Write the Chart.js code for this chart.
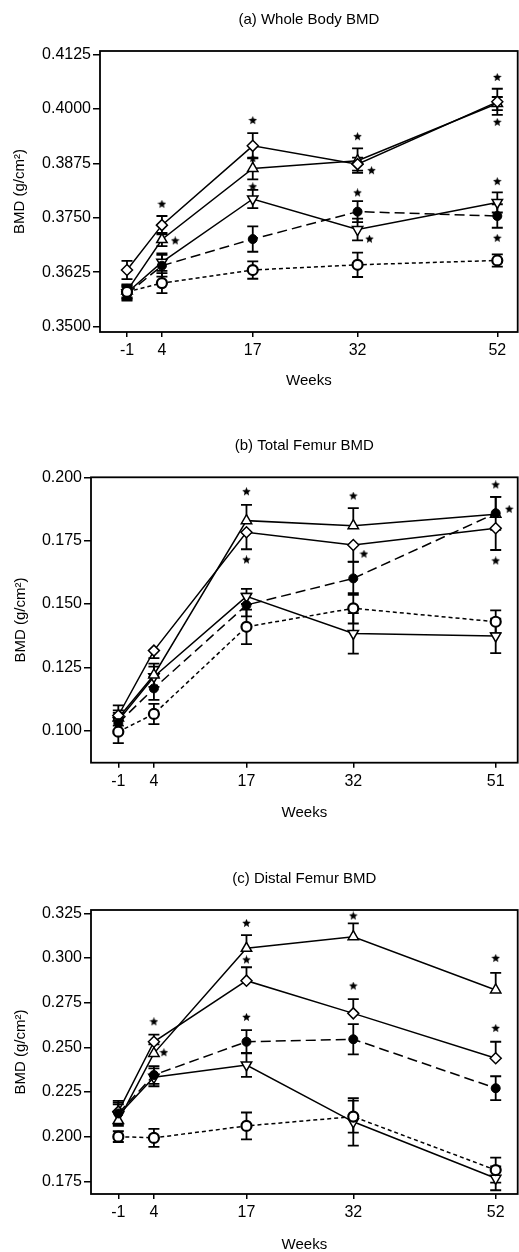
<!DOCTYPE html>
<html><head><meta charset="utf-8">
<script src="https://cdn.jsdelivr.net/npm/chart.js@4.4.1/dist/chart.umd.min.js"></script>
<style>
html,body{margin:0;padding:0;background:#fff;width:519px;height:1252px;overflow:hidden;}
.p{position:absolute;left:0;width:519px;}
canvas{display:block;}
</style></head><body>
<div class="p" style="top:0"><canvas id="ca" width="519" height="400"></canvas></div>
<div class="p" style="top:400px"><canvas id="cb" width="519" height="430"></canvas></div>
<div class="p" style="top:830px"><canvas id="cc" width="519" height="422"></canvas></div>
<script>
// ---------- shared time axis ----------
const timepoints = [-1, 4, 17, 32, 52];           // plotted visit positions (weeks)
const weekLabelsA = ['-1', '4', '17', '32', '52'];
const weekLabelsB = ['-1', '4', '17', '32', '51'];
const weekLabelsC = ['-1', '4', '17', '32', '52'];

// ---------- (a) Whole Body BMD (g/cm²) ----------
const yTicksA = [0.3500, 0.3625, 0.3750, 0.3875, 0.4000, 0.4125];
const wbOpenCircle   = [0.3580, 0.3600, 0.3630, 0.3642, 0.3652];
const wbOpenCircleSE = [0.0015, 0.0023, 0.0020, 0.0028, 0.0014];
const wbFilledCircle   = [0.3575, 0.3640, 0.3701, 0.3764, 0.3754];
const wbFilledCircleSE = [0.0015, 0.0025, 0.0029, 0.0024, 0.0027];
const wbDiamond   = [0.3630, 0.3733, 0.3915, 0.3873, 0.4016];
const wbDiamondSE = [0.0021, 0.0021, 0.0029, 0.0015, 0.0030];
const wbTriUp   = [0.3582, 0.3700, 0.3863, 0.3881, 0.4012];
const wbTriUpSE = [0.0015, 0.0015, 0.0025, 0.0028, 0.0015];
const wbTriDown   = [0.3578, 0.3648, 0.3793, 0.3723, 0.3785];
const wbTriDownSE = [0.0015, 0.0020, 0.0021, 0.0025, 0.0023];
const wbStars = [[4,0.3781],[5.9,0.3697],[17,0.3973],[17,0.3886],[17,0.3821],[32,0.3936],[34,0.3858],[32,0.3807],[33.7,0.3701],[52,0.4072],[52,0.3969],[52,0.3833],[52,0.3703]];

// ---------- (b) Total Femur BMD (g/cm²) ----------
const yTicksB = [0.100, 0.125, 0.150, 0.175, 0.200];
const tfOpenCircle   = [0.0996, 0.1066, 0.1410, 0.1483, 0.1430];
const tfOpenCircleSE = [0.0045, 0.0040, 0.0068, 0.0060, 0.0045];
const tfFilledCircle   = [0.1030, 0.1167, 0.1496, 0.1601, 0.1858];
const tfFilledCircleSE = [0.0040, 0.0045, 0.0045, 0.0065, 0.0065];
const tfDiamond   = [0.1060, 0.1316, 0.1783, 0.1733, 0.1799];
const tfDiamondSE = [0.0040, 0.0030, 0.0067, 0.0066, 0.0086];
const tfTriUp   = [0.1050, 0.1220, 0.1829, 0.1809, 0.1854];
const tfTriUpSE = [0.0050, 0.0045, 0.0062, 0.0069, 0.0069];
const tfTriDown   = [0.1040, 0.1213, 0.1530, 0.1384, 0.1374];
const tfTriDownSE = [0.0040, 0.0040, 0.0030, 0.0080, 0.0068];
const tfStars = [[17,0.1943],[17,0.1674],[32,0.1926],[33.5,0.1697],[52,0.1970],[53.9,0.1874],[52,0.1670]];

// ---------- (c) Distal Femur BMD (g/cm²) ----------
const yTicksC = [0.175, 0.200, 0.225, 0.250, 0.275, 0.300, 0.325];
const dfOpenCircle   = [0.2000, 0.1993, 0.2060, 0.2112, 0.1813];
const dfOpenCircleSE = [0.0030, 0.0050, 0.0075, 0.0090, 0.0070];
const dfFilledCircle   = [0.2130, 0.2345, 0.2531, 0.2545, 0.2271];
const dfFilledCircleSE = [0.0060, 0.0050, 0.0065, 0.0085, 0.0067];
const dfDiamond   = [0.2140, 0.2531, 0.2873, 0.2690, 0.2439];
const dfDiamondSE = [0.0060, 0.0040, 0.0075, 0.0080, 0.0092];
const dfTriUp   = [0.2090, 0.2466, 0.3054, 0.3119, 0.2821];
const dfTriUpSE = [0.0050, 0.0050, 0.0074, 0.0075, 0.0096];
const dfTriDown   = [0.2120, 0.2332, 0.2401, 0.2083, 0.1767];
const dfTriDownSE = [0.0060, 0.0050, 0.0067, 0.0133, 0.0067];
const dfStars = [[4,0.2643],[5.4,0.2470],[17,0.3194],[17,0.2989],[17,0.2668],[32,0.3235],[32,0.2843],[52,0.2998],[52,0.2606]];

// ---------- styling ----------
const FONT = "'Liberation Sans', Arial, Helvetica, sans-serif";
Chart.defaults.font.family = FONT;
Chart.defaults.color = '#000';

function makeStar(size){
  const c = document.createElement('canvas'); c.width = size; c.height = size;
  const g = c.getContext('2d'); g.fillStyle = '#000'; g.beginPath();
  const cx = size/2, cy = size/2, R = size/2, r = R*0.45;
  for (let k = 0; k < 10; k++) {
    const a = -Math.PI/2 + k*Math.PI/5, rr = (k % 2) ? r : R;
    g.lineTo(cx + rr*Math.cos(a), cy + rr*Math.sin(a));
  }
  g.closePath(); g.fill(); return c;
}
const starImg = makeStar(9);

const styles = {
  openCircle:   {name:'Group ○', style:'circle',   r:5,   pbw:2.2, fill:'#fff', dash:[4,3]},
  filledCircle: {name:'Group ●', style:'circle',   r:4.5, pbw:1,   fill:'#000', dash:[10,5]},
  diamond:      {name:'Group ◇', style:'rectRot',  r:5.5, pbw:1.5, fill:'#fff', dash:[]},
  triUp:        {name:'Group △', style:'triangle', r:6,   pbw:1.5, fill:'#fff', dash:[], rot:0},
  triDown:      {name:'Group ▽', style:'triangle', r:6,   pbw:1.5, fill:'#fff', dash:[], rot:180}
};

const framePlugin = {
  id: 'frame',
  afterDraw(chart){
    const {ctx, chartArea:a} = chart;
    ctx.save(); ctx.strokeStyle = '#000'; ctx.lineWidth = 1.8;
    ctx.strokeRect(a.left, a.top, a.right - a.left, a.bottom - a.top);
    ctx.restore();
  }
};

const errorBarPlugin = {
  id: 'errorBars',
  beforeDatasetsDraw(chart){
    const {ctx, scales:{x, y}} = chart;
    ctx.save(); ctx.strokeStyle = '#000'; ctx.lineWidth = 1.8; ctx.setLineDash([]);
    chart.data.datasets.forEach(ds => {
      if (!ds.errors) return;
      ds.data.forEach((pt, j) => {
        const e = ds.errors[j];
        const px = x.getPixelForValue(pt.x), py = y.getPixelForValue(pt.y);
        const up = y.getPixelForValue(pt.y + e), dn = y.getPixelForValue(pt.y - e);
        const top = ds.errDir === 'down' ? py : up;
        const bot = ds.errDir === 'up' ? py : dn;
        ctx.beginPath(); ctx.moveTo(px, top); ctx.lineTo(px, bot);
        if (ds.errDir !== 'down') { ctx.moveTo(px - 5.5, up); ctx.lineTo(px + 5.5, up); }
        if (ds.errDir !== 'up')   { ctx.moveTo(px - 5.5, dn); ctx.lineTo(px + 5.5, dn); }
        ctx.stroke();
      });
    });
    ctx.restore();
  }
};

function buildPanel(id, p){
  const datasets = p.series.map(s => {
    const st = styles[s.key];
    return {
      label: st.name,
      data: timepoints.map((t, i) => ({x: t, y: s.values[i]})),
      errors: s.errors, errDir: s.dir || 'both',
      borderColor: '#000', backgroundColor: st.fill, borderWidth: 1.5, borderDash: st.dash,
      pointStyle: st.style, pointRotation: st.rot || 0, pointRadius: st.r, pointHoverRadius: st.r,
      pointBorderWidth: st.pbw, pointBackgroundColor: st.fill, pointBorderColor: '#000',
      tension: 0, fill: false
    };
  });
  datasets.push({
    label: 'significant', data: p.stars.map(([x, y]) => ({x, y})), showLine: false,
    pointStyle: starImg, pointRadius: 5, borderColor: '#000', backgroundColor: '#000'
  });
  new Chart(document.getElementById(id), {
    type: 'line',
    data: {datasets},
    options: {
      responsive: false, animation: false, events: [],
      layout: {autoPadding: false, padding: {left: 0, right: 1.3, top: 0, bottom: 0}},
      plugins: {
        legend: {display: false}, tooltip: {enabled: false},
        title: {display: true, fullSize: false, text: p.title, color: '#000',
                font: {size: 15, weight: 'normal', lineHeight: 1},
                padding: {top: p.titleTop, bottom: p.titleBottom}}
      },
      scales: {
        x: {
          type: 'linear', min: p.xMin, max: p.xMax,
          afterBuildTicks: ax => { ax.ticks = timepoints.map(v => ({value: v})); },
          afterFit: s => { s.height = p.xAxisH; s.paddingLeft = 0; s.paddingRight = 0; },
          ticks: {autoSkip: false, maxRotation: 0, padding: 4, color: '#000', font: {size: 16},
                  callback: (v) => p.weekLabels[timepoints.indexOf(v)]},
          grid: {drawOnChartArea: false, drawTicks: true, tickLength: 5, color: '#000', lineWidth: 1.5},
          border: {display: false},
          title: {display: true, text: 'Weeks', color: '#000', font: {size: 15, lineHeight: 1},
                  padding: {top: 0, bottom: p.weeksBottom}}
        },
        y: {
          type: 'linear', min: p.yMin, max: p.yMax,
          afterBuildTicks: ax => { ax.ticks = p.yTicks.map(v => ({value: v})); },
          afterFit: s => { s.width = p.yAxisW; s.paddingTop = 0; s.paddingBottom = 0; },
          ticks: {padding: 2, color: '#000', font: {size: 16},
                  callback: v => v.toFixed(p.dec)},
          grid: {drawOnChartArea: false, drawTicks: true, tickLength: 7, color: '#000', lineWidth: 1.5},
          border: {display: false},
          title: {display: true, text: 'BMD (g/cm²)', color: '#000', font: {size: 15, lineHeight: 1},
                  padding: {top: p.yTitleTop, bottom: 0}}
        }
      }
    },
    plugins: [errorBarPlugin, framePlugin]
  });
}

buildPanel('ca', {
  title: '(a) Whole Body BMD', titleTop: 12, titleBottom: 24,
  xMin: -4.864, xMax: 54.92, xAxisH: 68, weeksBottom: 12, weekLabels: weekLabelsA,
  yMin: 0.34878, yMax: 0.41326, yTicks: yTicksA, dec: 4, yAxisW: 100, yTitleTop: 12.5,
  stars: wbStars,
  series: [
    {key:'openCircle',   values: wbOpenCircle,   errors: wbOpenCircleSE},
    {key:'filledCircle', values: wbFilledCircle, errors: wbFilledCircleSE},
    {key:'diamond',      values: wbDiamond,      errors: wbDiamondSE},
    {key:'triUp',        values: wbTriUp,        errors: wbTriUpSE},
    {key:'triDown',      values: wbTriDown,      errors: wbTriDownSE}
  ]
});

buildPanel('cb', {
  title: '(b) Total Femur BMD', titleTop: 38, titleBottom: 24.3,
  xMin: -4.836, xMax: 55.09, xAxisH: 67.3, weeksBottom: 9.5, weekLabels: weekLabelsB,
  yMin: 0.08737, yMax: 0.200, yTicks: yTicksB, dec: 3, yAxisW: 91, yTitleTop: 13.5,
  stars: tfStars,
  series: [
    {key:'openCircle',   values: tfOpenCircle,   errors: tfOpenCircleSE},
    {key:'filledCircle', values: tfFilledCircle, errors: tfFilledCircleSE},
    {key:'diamond',      values: tfDiamond,      errors: tfDiamondSE, dir:'down'},
    {key:'triUp',        values: tfTriUp,        errors: tfTriUpSE,   dir:'up'},
    {key:'triDown',      values: tfTriDown,      errors: tfTriDownSE}
  ]
});

buildPanel('cc', {
  title: '(c) Distal Femur BMD', titleTop: 41, titleBottom: 24,
  xMin: -4.836, xMax: 55.09, xAxisH: 58, weeksBottom: 0, weekLabels: weekLabelsC,
  yMin: 0.16789, yMax: 0.32685, yTicks: yTicksC, dec: 3, yAxisW: 91, yTitleTop: 13.5,
  stars: dfStars,
  series: [
    {key:'openCircle',   values: dfOpenCircle,   errors: dfOpenCircleSE},
    {key:'filledCircle', values: dfFilledCircle, errors: dfFilledCircleSE},
    {key:'diamond',      values: dfDiamond,      errors: dfDiamondSE, dir:'up'},
    {key:'triUp',        values: dfTriUp,        errors: dfTriUpSE,   dir:'up'},
    {key:'triDown',      values: dfTriDown,      errors: dfTriDownSE}
  ]
});
</script>
</body></html>
